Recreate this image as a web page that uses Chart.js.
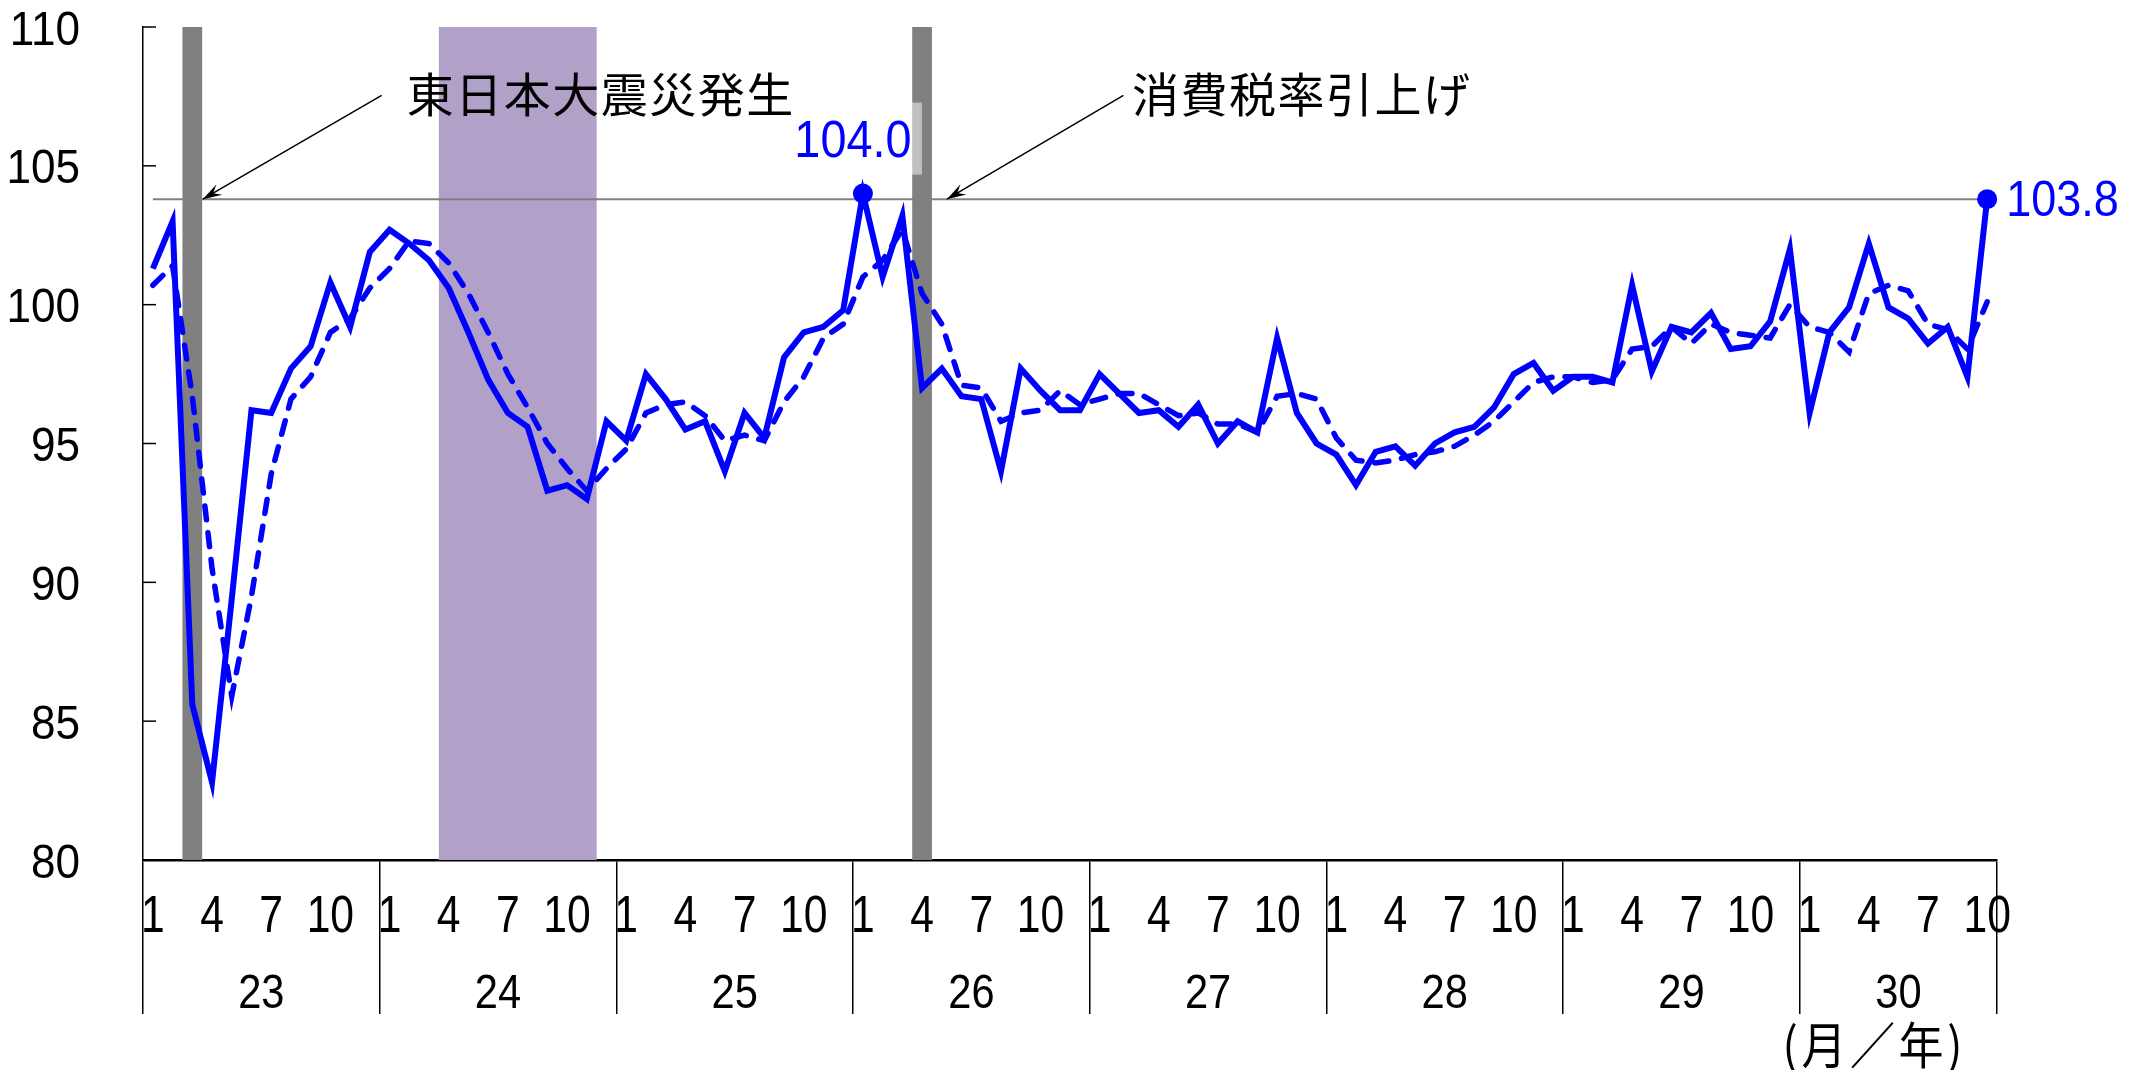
<!DOCTYPE html>
<html lang="ja">
<head>
<meta charset="utf-8">
<title>指数の推移</title>
<script src="https://cdn.jsdelivr.net/npm/chart.js@4.4.1/dist/chart.umd.min.js"></script>
<style>
  html, body { margin: 0; padding: 0; background: #fff; }
  #wrap { width: 2134px; height: 1070px; }
</style>
</head>
<body>
<div id="wrap"><canvas id="chart" width="2134" height="1070"></canvas></div>
<script>
// 平成23年1月 ～ 平成30年10月
const years = ['23', '24', '25', '26', '27', '28', '29', '30'];
const monthsInYear = [12, 12, 12, 12, 12, 12, 12, 10];
const monthTicks = [1, 4, 7, 10];
const yTicks = [80, 85, 90, 95, 100, 105, 110];

// 原数値
const indexValues = [
  101.3, 103.0, 85.6, 82.8, 89.4, 96.2, 96.1, 97.7, 98.5, 100.8, 99.2, 101.9,
  102.7, 102.2, 101.6, 100.6, 99.0, 97.3, 96.1, 95.6, 93.3, 93.5, 93.0, 95.8,
  95.1, 97.5, 96.6, 95.5, 95.8, 94.0, 96.1, 95.2, 98.1, 99.0, 99.2, 99.8,
  104.0, 101.0, 103.2, 97.0, 97.7, 96.7, 96.6, 94.0, 97.7, 96.9, 96.2, 96.2,
  97.5, 96.8, 96.1, 96.2, 95.6, 96.4, 95.0, 95.8, 95.4, 98.8, 96.1, 95.0,
  94.6, 93.5, 94.7, 94.9, 94.2, 95.0, 95.4, 95.6, 96.3, 97.5, 97.9, 96.9,
  97.4, 97.4, 97.2, 100.7, 97.6, 99.2, 99.0, 99.7, 98.4, 98.5, 99.4, 102.0,
  96.1, 99.0, 99.9, 102.2, 99.9, 99.5, 98.6, 99.2, 97.4, 103.8
];

// 3か月移動平均（破線）
const movingAvg = [
  100.7, 101.4, 96.7, 90.5, 85.9, 89.5, 93.9, 96.6, 97.4, 99.0, 99.5, 100.6,
  101.3, 102.3, 102.2, 101.5, 100.4, 99.0, 97.5, 96.3, 95.0, 94.1, 93.3, 94.1,
  94.8, 96.1, 96.4, 96.5, 96.0, 95.1, 95.3, 95.1, 96.5, 97.4, 98.8, 99.3,
  101.0, 101.6, 102.7, 100.4, 99.3, 97.1, 97.0, 95.8, 96.1, 96.2, 96.9, 96.4,
  96.6, 96.8, 96.8, 96.4, 96.0, 96.1, 95.7, 95.7, 95.4, 96.7, 96.8, 96.6,
  95.2, 94.4, 94.3, 94.4, 94.6, 94.7, 94.9, 95.3, 95.8, 96.5, 97.2, 97.4,
  97.4, 97.2, 97.3, 98.4, 98.5, 99.2, 98.6, 99.3, 99.0, 98.9, 98.8, 100.0,
  99.2, 99.0, 98.3, 100.4, 100.7, 100.5, 99.3, 99.1, 98.4, 100.1
];

const refLevel = 103.8;          // 最新値の水準線
const markedPoints = [36, 93];   // 26年1月, 30年10月
const grayBars = [2, 39];        // 23年3月, 26年4月
const purpleBand = [15, 22];     // 24年4月～11月

const categories = [];
years.forEach((y, k) => {
  for (let m = 1; m <= monthsInYear[k]; m++) categories.push(y + '/' + m);
});

const numFont = '"Liberation Sans", Arial, sans-serif';
const jpFont = '"Noto Sans CJK JP", "Noto Sans", sans-serif';

function squeezeText(ctx, text, x, y, font, sx, align, color) {
  ctx.save();
  ctx.font = font;
  ctx.fillStyle = color || '#000';
  ctx.textAlign = align;
  ctx.textBaseline = 'alphabetic';
  ctx.translate(x, y);
  ctx.scale(sx, 1);
  ctx.fillText(text, 0, 0);
  ctx.restore();
}

function arrow(ctx, x1, y1, x2, y2) {
  const ang = Math.atan2(y2 - y1, x2 - x1);
  const len = 20, half = 0.3;
  ctx.beginPath();
  ctx.moveTo(x1, y1);
  ctx.lineTo(x2, y2);
  ctx.stroke();
  ctx.beginPath();
  ctx.moveTo(x2, y2);
  ctx.lineTo(x2 - len * Math.cos(ang - half), y2 - len * Math.sin(ang - half));
  ctx.lineTo(x2 - 0.6 * len * Math.cos(ang), y2 - 0.6 * len * Math.sin(ang));
  ctx.lineTo(x2 - len * Math.cos(ang + half), y2 - len * Math.sin(ang + half));
  ctx.closePath();
  ctx.fill();
}

const decorations = {
  id: 'decorations',
  beforeDatasetsDraw(chart) {
    const { ctx, chartArea: a, scales: { x, y } } = chart;
    const edge = i => x.getPixelForValue(i - 0.5);
    ctx.save();
    // 景気後退期
    ctx.fillStyle = '#B1A0C7';
    ctx.fillRect(edge(purpleBand[0]), a.top, edge(purpleBand[1] + 1) - edge(purpleBand[0]), a.bottom - a.top);
    // 水準線
    const ry = y.getPixelForValue(refLevel);
    ctx.strokeStyle = '#808080';
    ctx.lineWidth = 2;
    ctx.beginPath();
    ctx.moveTo(x.getPixelForValue(0), ry);
    ctx.lineTo(x.getPixelForValue(categories.length - 1), ry);
    ctx.stroke();
    // 震災・消費税
    ctx.fillStyle = '#808080';
    grayBars.forEach(i => ctx.fillRect(edge(i), a.top, edge(i + 1) - edge(i), a.bottom - a.top));
    // ラベル背景（半透明）
    const px = x.getPixelForValue(markedPoints[0]);
    const py = y.getPixelForValue(indexValues[markedPoints[0]]);
    ctx.fillStyle = 'rgba(255,255,255,0.5)';
    ctx.fillRect(px - 71, py - 91, 130, 72);
    ctx.restore();
  },
  afterDraw(chart) {
    const { ctx, chartArea: a, scales: { x, y } } = chart;
    ctx.save();
    // y軸 目盛（内向き）とラベル
    ctx.strokeStyle = '#000';
    ctx.lineWidth = 1.5;
    yTicks.forEach(v => {
      const py = y.getPixelForValue(v);
      ctx.beginPath();
      ctx.moveTo(a.left, py);
      ctx.lineTo(a.left + 13, py);
      ctx.stroke();
      squeezeText(ctx, String(v), 80, py + 17.5, '49px ' + numFont, 0.9, 'right');
    });
    // x軸 月・年
    categories.forEach((c, i) => {
      const m = parseInt(c.split('/')[1], 10);
      if (monthTicks.includes(m)) {
        squeezeText(ctx, String(m), x.getPixelForValue(i), 932, '52px ' + numFont, 0.82, 'center');
      }
    });
    let start = 0;
    years.forEach((yr, k) => {
      const mid = start + (monthsInYear[k] - 1) / 2;
      squeezeText(ctx, yr, x.getPixelForValue(mid), 1008, '49px ' + numFont, 0.85, 'center');
      start += monthsInYear[k];
    });
    ctx.letterSpacing = '4px';
    squeezeText(ctx, '(月／年)', 1966, 1064, '50px ' + jpFont, 0.9, 'right');
    ctx.letterSpacing = '0px';

    // 値ラベル
    const p0x = x.getPixelForValue(markedPoints[0]);
    const p0y = y.getPixelForValue(indexValues[markedPoints[0]]);
    squeezeText(ctx, indexValues[markedPoints[0]].toFixed(1), p0x - 10, p0y - 37, '52px ' + numFont, 0.9, 'center', '#0000FF');
    const p1x = x.getPixelForValue(markedPoints[1]);
    const p1y = y.getPixelForValue(indexValues[markedPoints[1]]);
    squeezeText(ctx, indexValues[markedPoints[1]].toFixed(1), p1x + 19, p1y + 17, '50px ' + numFont, 0.9, 'left', '#0000FF');

    // 注記
    ctx.fillStyle = '#000';
    ctx.strokeStyle = '#000';
    ctx.lineWidth = 1.5;
    ctx.font = '47px ' + jpFont;
    ctx.letterSpacing = '1.5px';
    ctx.textBaseline = 'alphabetic';
    ctx.textAlign = 'left';
    ctx.fillText('東日本大震災発生', x.getPixelForValue(12.87), y.getPixelForValue(106.95));
    ctx.fillText('消費税率引上げ', x.getPixelForValue(49.64), y.getPixelForValue(106.95));
    ctx.letterSpacing = '0px';
    const ry = y.getPixelForValue(refLevel);
    arrow(ctx, x.getPixelForValue(11.6), y.getPixelForValue(107.54), x.getPixelForValue(2.53), ry);
    arrow(ctx, x.getPixelForValue(49.21), y.getPixelForValue(107.54), x.getPixelForValue(40.26), ry);
    ctx.restore();
  }
};

new Chart(document.getElementById('chart'), {
  type: 'line',
  data: {
    labels: categories,
    datasets: [
      {
        label: '原数値',
        data: indexValues,
        borderColor: '#0000FF',
        borderWidth: 6,
        tension: 0,
        fill: false,
        pointRadius: c => markedPoints.includes(c.dataIndex) ? 10 : 0,
        pointHoverRadius: 0,
        pointBackgroundColor: '#0000FF',
        pointBorderWidth: 0
      },
      {
        label: '3か月移動平均',
        data: movingAvg,
        borderColor: '#0000FF',
        borderWidth: 5.5,
        borderDash: [14, 13],
        borderCapStyle: 'round',
        tension: 0,
        fill: false,
        pointRadius: 0,
        pointHoverRadius: 0
      }
    ]
  },
  options: {
    responsive: false,
    devicePixelRatio: 1,
    animation: false,
    layout: { padding: { top: 27, right: 137, left: 0, bottom: 0 } },
    plugins: { legend: { display: false }, tooltip: { enabled: false } },
    scales: {
      x: {
        type: 'category',
        offset: true,
        grid: {
          offset: true,
          drawOnChartArea: false,
          drawTicks: true,
          tickLength: 154,
          lineWidth: 1.5,
          color: c => (c.index === undefined || c.index % 12 === 0) ? '#000' : 'rgba(0,0,0,0)'
        },
        border: { display: true, color: '#000', width: 2.5 },
        ticks: { display: false, autoSkip: false },
        afterFit: s => { s.height = 210; }
      },
      y: {
        min: 80,
        max: 110,
        ticks: { display: false, stepSize: 5 },
        grid: { display: false },
        border: { display: true, color: '#000', width: 1.5 },
        afterFit: s => { s.width = 143; }
      }
    }
  },
  plugins: [decorations]
});
</script>
</body>
</html>
